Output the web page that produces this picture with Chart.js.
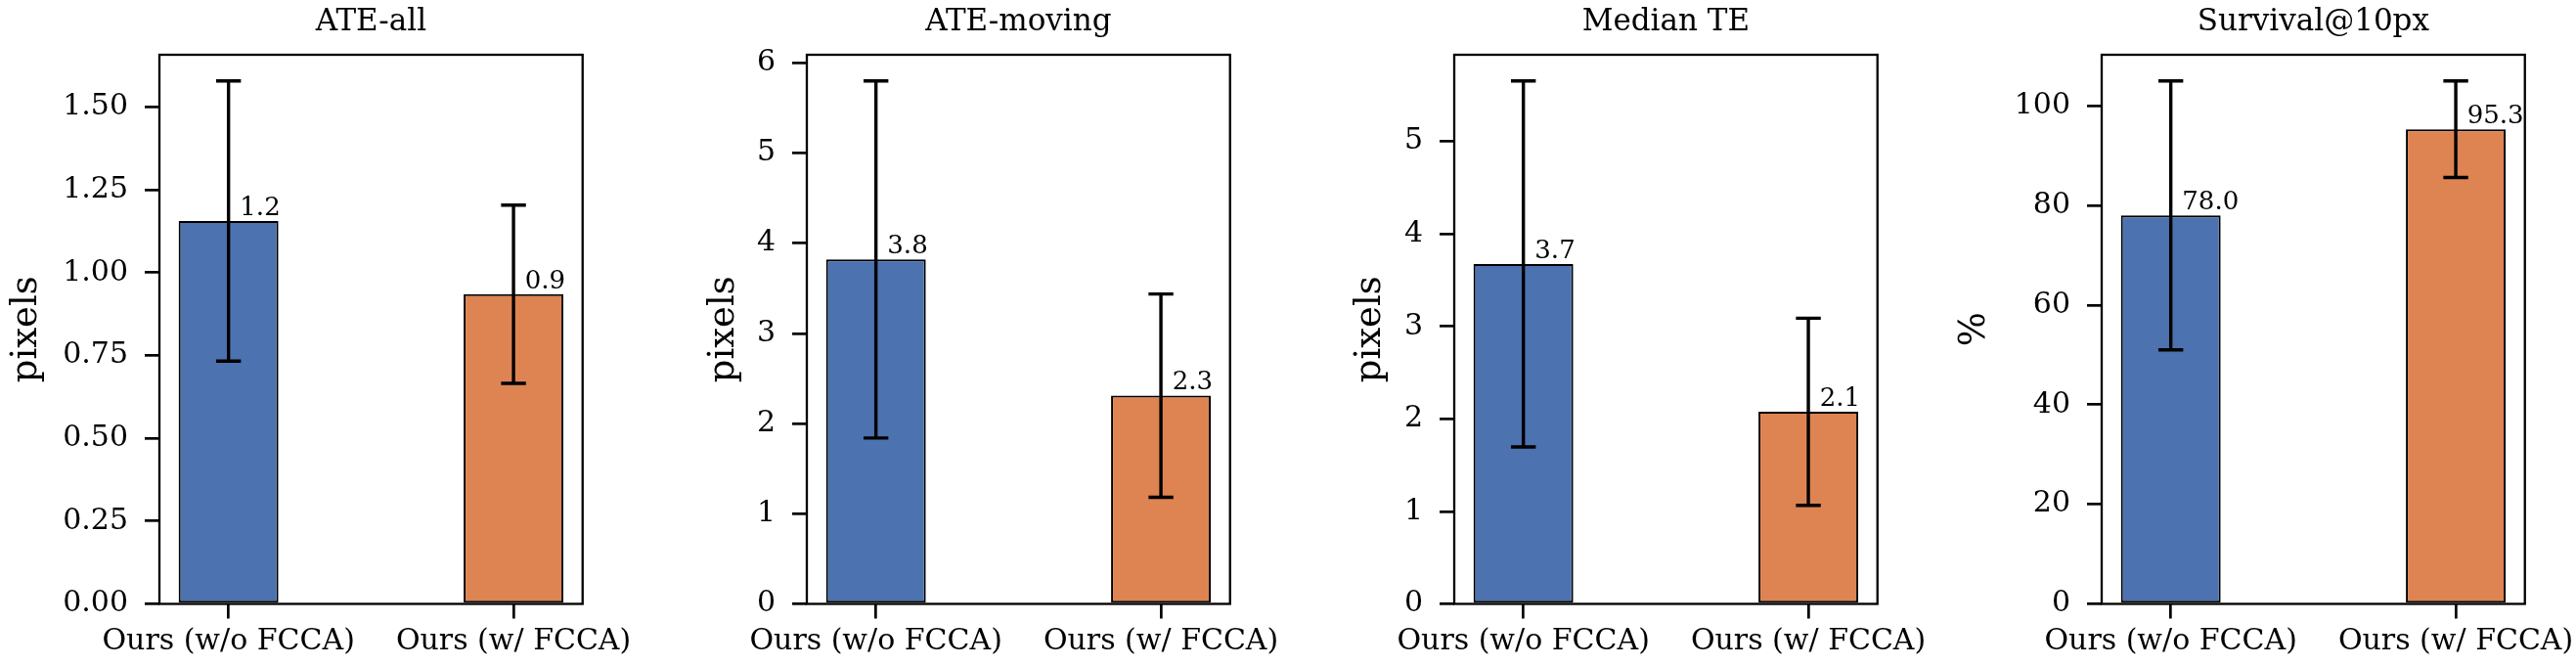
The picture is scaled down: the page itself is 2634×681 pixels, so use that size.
<!DOCTYPE html>
<html>
<head>
<meta charset="utf-8">
<script src="https://cdn.jsdelivr.net/npm/chart.js@4/dist/chart.umd.min.js"></script>
<style>
  html, body { margin: 0; padding: 0; background: #fff; overflow: hidden; }
  #wrap { position: relative; width: 2634px; height: 681px; overflow: hidden; }
  #wrap canvas { position: absolute; top: 0; }
</style>
</head>
<body>
<div id="wrap"></div>
<script>
var categories = ['Ours (w/o FCCA)', 'Ours (w/ FCCA)'];
var panelTitles = ['ATE-all', 'ATE-moving', 'Median TE', 'Survival@10px'];
var yAxisLabels = ['pixels', 'pixels', 'pixels', '%'];

var ateAllMean = [1.156, 0.935];
var ateAllStd = [0.423, 0.269];
var ateMovingMean = [3.82, 2.31];
var ateMovingStd = [1.98, 1.127];
var medianTeMean = [3.676, 2.077];
var medianTeStd = [1.979, 1.012];
var survivalMean = [78.0, 95.3];
var survivalStd = [27.0, 9.7];

var ateAllTicks = [0, 0.25, 0.5, 0.75, 1.0, 1.25, 1.5];
var ateMovingTicks = [0, 1, 2, 3, 4, 5, 6];
var medianTeTicks = [0, 1, 2, 3, 4, 5];
var survivalTicks = [0, 20, 40, 60, 80, 100];

var barColors = ['#4c72b0', '#dd8452'];
var barWidth = 0.35;
var FONT = "'DejaVu Serif', serif";
var LABEL_SIZE = 37;

var panels = [
    { mean: ateAllMean, std: ateAllStd, ticks: ateAllTicks, decimals: 2, labelX: 27 },
    { mean: ateMovingMean, std: ateMovingStd, ticks: ateMovingTicks, decimals: 0, labelX: 78 },
    { mean: medianTeMean, std: medianTeStd, ticks: medianTeTicks, decimals: 0, labelX: 77 },
    { mean: survivalMean, std: survivalStd, ticks: survivalTicks, decimals: 0, labelX: 33 }
];

var PANEL_W = 662, H = 681;

// title, error bars, value labels and the axes box
var decorPlugin = {
    id: 'decor',
    afterDatasetsDraw: function(chart) {
        var p = chart.options.plugins.decor;
        var ctx = chart.ctx;
        var xs = chart.scales.x, ys = chart.scales.y;
        var area = chart.chartArea;
        ctx.save();

        ctx.strokeStyle = '#000';
        ctx.lineWidth = 3.4;
        p.mean.forEach(function(m, i) {
            var x = xs.getPixelForValue(i);
            var yTop = ys.getPixelForValue(m + p.std[i]);
            var yBot = ys.getPixelForValue(m - p.std[i]);
            ctx.beginPath();
            ctx.moveTo(x, yTop); ctx.lineTo(x, yBot);
            ctx.moveTo(x - 12.7, yTop); ctx.lineTo(x + 12.7, yTop);
            ctx.moveTo(x - 12.7, yBot); ctx.lineTo(x + 12.7, yBot);
            ctx.stroke();
        });

        ctx.fillStyle = '#000';
        ctx.font = '26px ' + FONT;
        ctx.textAlign = 'left';
        ctx.textBaseline = 'bottom';
        p.mean.forEach(function(m, i) {
            ctx.fillText(m.toFixed(1), xs.getPixelForValue(i + 0.04), ys.getPixelForValue(m));
        });

        ctx.lineWidth = 2.3;
        ctx.strokeRect(area.left, area.top, area.right - area.left, area.bottom - area.top);

        ctx.font = '31px ' + FONT;
        ctx.textAlign = 'center';
        ctx.textBaseline = 'alphabetic';
        ctx.fillText(p.title, (area.left + area.right) / 2, 31);
        ctx.restore();
    }
};

var wrap = document.getElementById('wrap');

panels.forEach(function(panel, k) {
    var canvas = document.createElement('canvas');
    canvas.width = PANEL_W;
    canvas.height = H;
    canvas.style.left = (k * PANEL_W) + 'px';
    wrap.appendChild(canvas);

    var errTop = Math.max.apply(null, panel.mean.map(function(m, i) { return m + panel.std[i]; }));
    var xMargin = 0.05 * (1 + barWidth);

    new Chart(canvas, {
        type: 'bar',
        data: {
            datasets: [{
                data: panel.mean.map(function(m, i) { return { x: i, y: m }; }),
                backgroundColor: barColors,
                borderColor: '#000',
                borderWidth: 2,
                borderSkipped: false,
                categoryPercentage: barWidth,
                barPercentage: 1
            }]
        },
        options: {
            responsive: false,
            animation: false,
            devicePixelRatio: 1,
            layout: { padding: { top: 56, right: 66, left: 0, bottom: 0 } },
            plugins: {
                legend: { display: false },
                tooltip: { enabled: false },
                decor: { mean: panel.mean, std: panel.std, title: panelTitles[k] }
            },
            scales: {
                x: {
                    type: 'linear',
                    offset: false,
                    min: -barWidth / 2 - xMargin,
                    max: 1 + barWidth / 2 + xMargin,
                    afterBuildTicks: function(scale) {
                        scale.ticks = categories.map(function(c, i) { return { value: i }; });
                    },
                    afterFit: function(scale) { scale.height = 63.5; },
                    border: { display: false },
                    grid: { offset: false, drawOnChartArea: false, color: '#000', lineWidth: 2.7, tickLength: 15 },
                    ticks: {
                        color: '#000',
                        font: { family: FONT, size: 30 },
                        padding: 6,
                        maxRotation: 0,
                        autoSkip: false,
                        callback: function(v) { return categories[v]; }
                    }
                },
                y: {
                    min: 0,
                    max: errTop * 1.05,
                    afterBuildTicks: function(scale) {
                        scale.ticks = panel.ticks.map(function(v) { return { value: v }; });
                    },
                    afterFit: function(scale) { scale.width = 163; },
                    border: { display: false },
                    grid: { drawOnChartArea: false, color: '#000', lineWidth: 2.7, tickLength: 15 },
                    ticks: {
                        color: '#000',
                        font: { family: FONT, size: 30 },
                        padding: 17,
                        callback: function(v) { return v.toFixed(panel.decimals); }
                    },
                    title: {
                        display: true,
                        text: yAxisLabels[k],
                        color: '#000',
                        font: { family: FONT, size: LABEL_SIZE, lineHeight: 1 },
                        padding: { top: panel.labelX - LABEL_SIZE / 2, bottom: 0 }
                    }
                }
            }
        },
        plugins: [decorPlugin]
    });
});
</script>
</body>
</html>
